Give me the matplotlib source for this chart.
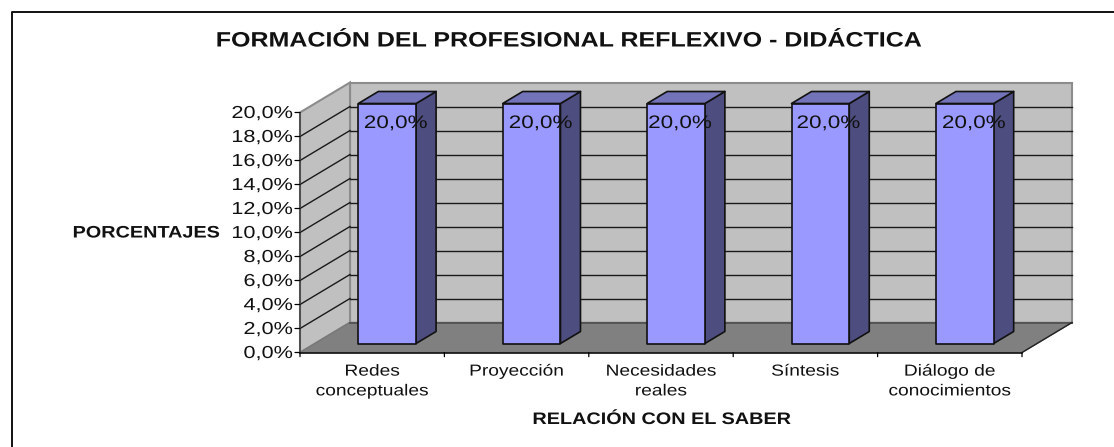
import matplotlib
matplotlib.use("Agg")
import matplotlib.pyplot as plt
from matplotlib.patches import Polygon
from matplotlib.lines import Line2D
from matplotlib.patheffects import AbstractPathEffect
from matplotlib.transforms import Affine2D

W, H = 1114, 447
plt.rcParams['font.family'] = ['Liberation Sans', 'DejaVu Sans']

categories = ["Redes\nconceptuales", "Proyección", "Necesidades\nreales", "Síntesis", "Diálogo de\nconocimientos"]
values = [20.0, 20.0, 20.0, 20.0, 20.0]
y_ticks = [0, 2, 4, 6, 8, 10, 12, 14, 16, 18, 20]
y_tick_labels = ["0,0%", "2,0%", "4,0%", "6,0%", "8,0%", "10,0%", "12,0%", "14,0%", "16,0%", "18,0%", "20,0%"]
title = "FORMACIÓN DEL PROFESIONAL REFLEXIVO - DIDÁCTICA"
x_label = "RELACIÓN CON EL SABER"
y_label = "PORCENTAJES"

L, R, B, T = 300, 1022, 352.5, 112.5
DX = 50 / ((R - L) / 5)     # wall depth, in category units
DY = 30 / ((B - T) / 20)    # wall depth, in percent units
BAR_W = 0.40
D0, D1 = 0.30, 0.70
PT = 0.72                   # points per pixel at dpi 100
label_shift_px = [8.5, 9, 4, 8, 9]


class Stretch(AbstractPathEffect):
    """Widens a text's glyphs horizontally about its centre or right edge."""

    def __init__(self, sx, anchor='center'):
        super().__init__()
        self.sx, self.anchor = sx, anchor

    def draw_path(self, renderer, gc, tpath, affine, rgbFace=None):
        ext = tpath.get_extents()
        c = ext.x1 if self.anchor == 'right' else (ext.x0 + ext.x1) / 2
        a = Affine2D().translate(-c, 0).scale(self.sx, 1).translate(c, 0) + affine
        renderer.draw_path(gc, tpath, a, rgbFace)


def p(x, y, d=0.0):
    return (x + d * DX, y + d * DY)


fig = plt.figure(figsize=(W / 100, H / 100), dpi=100, facecolor='white')
ax = fig.add_axes([L / W, 1 - B / H, (R - L) / W, (B - T) / H])
ax.set_xlim(0, 5)
ax.set_ylim(0, 20)
ax.axis('off')

# outer frame: only its left and top sides fall inside the picture
fig.add_artist(Line2D([11.5 / W, 11.5 / W, 1], [0, 1 - 12 / H, 1 - 12 / H], transform=fig.transFigure,
                      color='#111111', lw=1.4))

WALL = '#c0c0c0'
EDGE = '#8c8c8c'
kw = dict(clip_on=False)
ax.add_patch(Polygon([p(0, 0, 1), p(5, 0, 1), p(5, 20, 1), p(0, 20, 1)], fc=WALL, ec=EDGE, lw=1.5, zorder=1, **kw))
ax.add_patch(Polygon([p(0, 0), p(0, 0, 1), p(0, 20, 1), p(0, 20)], fc=WALL, ec=EDGE, lw=1.5, zorder=1, **kw))
ax.add_patch(Polygon([p(0, 0), p(5, 0), p(5, 0, 1), p(0, 0, 1)], fc='#808080', ec='#787878', lw=1.0, zorder=2, **kw))
ax.plot(*zip(p(0, 0, 1), p(5, 0, 1)), color='#555555', lw=1.4, zorder=2, **kw)

# gridlines on both walls
for t in y_ticks[1:-1]:
    ax.plot(*zip(p(0, t, 1), p(5, t, 1)), color='#1a1a1a', lw=1.0, zorder=2, **kw)
    ax.plot(*zip(p(0, t), p(0, t, 1)), color='#1a1a1a', lw=1.0, zorder=2, **kw)

# axis lines and ticks
ax.plot(*zip(p(0, 0), p(5, 0)), color='#111111', lw=1.2, zorder=3, **kw)
ax.plot(*zip(p(0, 0), p(0, 20)), color='#444444', lw=1.2, zorder=3, **kw)
ax.plot(*zip(p(5, 0), p(5, 0, 1)), color='#222222', lw=1.0, zorder=3, **kw)
for i in range(6):
    ax.annotate('', xy=(i, 0), xytext=(0, -3), textcoords='offset points', zorder=3, annotation_clip=False,
                arrowprops=dict(arrowstyle='-', color='black', lw=0.9, shrinkA=0, shrinkB=0))
for t, lab in zip(y_ticks, y_tick_labels):
    ax.annotate('', xy=(0, t), xytext=(-3.6, 0), textcoords='offset points', zorder=3, annotation_clip=False,
                arrowprops=dict(arrowstyle='-', color='black', lw=0.9, shrinkA=0, shrinkB=0))
    ax.annotate(lab, xy=(0, t), xytext=(-7.3 * PT, -1.0 * PT), textcoords='offset points', ha='right', va='center',
                fontsize=12.5, color='#111111', zorder=3, annotation_clip=False,
                path_effects=[Stretch(1.25, 'right')])

# bars
for i, (v, cat) in enumerate(zip(values, categories)):
    x0, x1 = i + 0.5 - BAR_W / 2, i + 0.5 + BAR_W / 2
    ax.add_patch(Polygon([p(x1, 0, D0), p(x1, 0, D1), p(x1, v, D1), p(x1, v, D0)],
                         fc='#4d4d80', ec='#111111', lw=1.2, zorder=4, joinstyle='round', **kw))
    ax.add_patch(Polygon([p(x0, v, D0), p(x1, v, D0), p(x1, v, D1), p(x0, v, D1)],
                         fc='#7373b9', ec='#111111', lw=1.2, zorder=4, joinstyle='round', **kw))
    ax.add_patch(Polygon([p(x0, 0, D0), p(x1, 0, D0), p(x1, v, D0), p(x0, v, D0)],
                         fc='#9999ff', ec='#111111', lw=1.2, zorder=5, joinstyle='round', **kw))
    ax.annotate(f"{v:.1f}%".replace('.', ','), xy=p(i + 0.5, v, D0),
                xytext=(label_shift_px[i] * PT, -20 * PT), textcoords='offset points',
                ha='center', va='center', fontsize=13, color='#111111', zorder=6, annotation_clip=False,
                path_effects=[Stretch(1.245)])
    ax.annotate(cat, xy=(i + 0.5, 0), xytext=(0, -8), textcoords='offset points', ha='center', va='top',
                fontsize=11.5, linespacing=1.4, color='#111111', zorder=6, annotation_clip=False,
                path_effects=[Stretch(1.2)])

fig.text(569 / W, 1 - 41 / H, title, ha='center', va='center', fontsize=15, fontweight='bold',
         color='#111111', path_effects=[Stretch(1.2)])
fig.text(661.5 / W, 1 - 419.5 / H, x_label, ha='center', va='center', fontsize=12, fontweight='bold',
         color='#111111', path_effects=[Stretch(1.19)])
fig.text(146 / W, 1 - 233 / H, y_label, ha='center', va='center', fontsize=12, fontweight='bold',
         color='#111111', path_effects=[Stretch(1.19)])

fig.savefig('out.png', dpi=100, facecolor='white')
